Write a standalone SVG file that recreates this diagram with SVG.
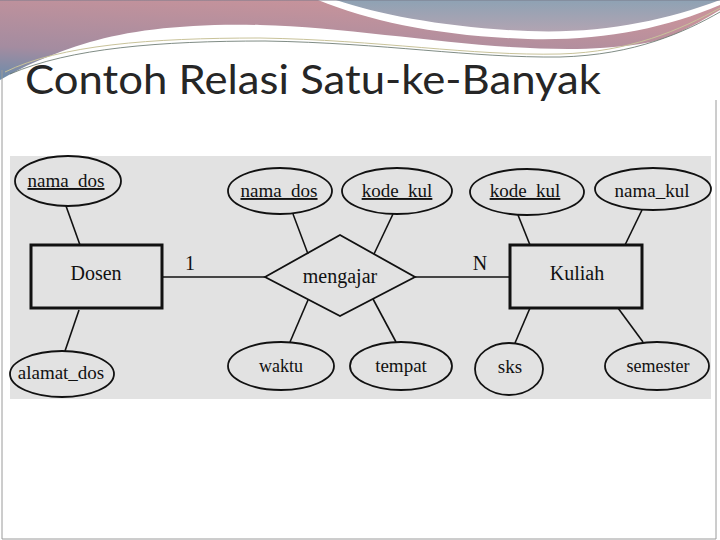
<svg xmlns="http://www.w3.org/2000/svg" width="720" height="540" viewBox="0 0 720 540">
<defs>
<linearGradient id="mauve" x1="0" y1="1" x2="0.45" y2="0">
<stop offset="0" stop-color="#6a8cab"/>
<stop offset="0.35" stop-color="#a48ca0"/>
<stop offset="1" stop-color="#c7939b"/>
</linearGradient>
<linearGradient id="bluegray" x1="0" y1="0" x2="0" y2="1">
<stop offset="0" stop-color="#8ea2b4"/>
<stop offset="1" stop-color="#b3a4b2"/>
</linearGradient>
<style>
.attr{fill:none;stroke:#111;stroke-width:1.8}
.ent{fill:none;stroke:#111;stroke-width:3}
.rel{fill:none;stroke:#111;stroke-width:1.8}
.conn line{stroke:#111;stroke-width:1.6}
.t{font-family:"Liberation Serif","Times New Roman",serif;font-size:19px;fill:#111;text-anchor:middle}
.big{font-size:20px}
.u{text-decoration:underline}
</style>
</defs>
<rect width="720" height="540" fill="#ffffff"/>
<!-- header decoration -->
<path d="M0,0 H720 V10 C700,22 670,40 640,44 C600,50 560,50 510,47 C430,42 340,27 260,25 C190,23 130,30 90,42 C50,54 20,68 0,80 Z" fill="url(#mauve)"/>
<path d="M330,0 C375,16 445,29 525,32 C600,35 665,22 720,0 Z" fill="url(#bluegray)"/>
<path d="M318,0 L336,0 C380,15 450,28 528,31 C600,34 664,21 720,0 L720,5 C664,29 600,41 528,39 C440,36 372,22 318,0 Z" fill="#ffffff"/>
<path d="M5,72 C60,45 150,38 260,38 C380,40 470,56 560,54 C630,52 680,30 720,8" fill="none" stroke="#c9c39a" stroke-width="1"/>
<path d="M10,74 C70,48 160,41 265,41 C385,43 470,58 560,57 C635,55 685,32 720,12" fill="none" stroke="#5f6e66" stroke-width="0.8"/>
<path d="M0,0 L720,0" stroke="#7a7a8a" stroke-width="1"/>
<!-- slide frame -->
<path d="M2,70 V539 H716 V100" fill="none" stroke="#9a9a9a" stroke-width="1"/>
<!-- title -->
<text x="25" y="94" font-family="Lato,'Open Sans','Liberation Sans',sans-serif" font-size="41" fill="#262626" textLength="576" lengthAdjust="spacingAndGlyphs">Contoh Relasi Satu-ke-Banyak</text>
<!-- scanned diagram background -->
<rect x="10" y="156" width="701" height="243" fill="#e2e2e2"/>
<!-- connectors -->
<g id="connectors" class="conn">
<line x1="66" y1="206" x2="80" y2="245"/>
<line x1="79" y1="310" x2="65" y2="351"/>
<line x1="162" y1="277" x2="265" y2="277"/>
<line x1="415" y1="277" x2="510" y2="277"/>
<line x1="293" y1="214" x2="308" y2="254"/>
<line x1="393" y1="214" x2="374" y2="254"/>
<line x1="308" y1="300" x2="290" y2="342"/>
<line x1="373" y1="299" x2="396" y2="342"/>
<line x1="518" y1="215" x2="530" y2="245"/>
<line x1="642" y1="210" x2="625" y2="245"/>
<line x1="530" y1="308" x2="515" y2="343"/>
<line x1="618" y1="308" x2="643" y2="342"/>
</g>
<text class="t big" x="190" y="270">1</text>
<text class="t big" x="480" y="270">N</text>
<!-- entities -->
<g id="dosen">
<rect class="ent" x="31" y="245" width="131" height="63"/>
<text class="t big" x="96" y="280">Dosen</text>
</g>
<g id="kuliah">
<rect class="ent" x="510" y="245" width="132" height="63"/>
<text class="t big" x="577" y="280">Kuliah</text>
</g>
<g id="mengajar">
<polygon class="rel" points="265,277 340,235 415,277 340,316"/>
<text class="t big" x="340" y="283">mengajar</text>
</g>
<!-- attributes -->
<g id="nama_dos_1">
<ellipse class="attr" cx="68" cy="181" rx="53" ry="25"/>
<text class="t u" x="66" y="187">nama_dos</text>
</g>
<g id="alamat_dos">
<ellipse class="attr" cx="62" cy="374" rx="52" ry="23"/>
<text class="t" x="61" y="379">alamat_dos</text>
</g>
<g id="nama_dos_2">
<ellipse class="attr" cx="280" cy="191" rx="52" ry="23"/>
<text class="t u" x="279" y="197">nama_dos</text>
</g>
<g id="kode_kul_1">
<ellipse class="attr" cx="397" cy="191" rx="55" ry="23"/>
<text class="t u" x="397" y="197">kode_kul</text>
</g>
<g id="kode_kul_2">
<ellipse class="attr" cx="527" cy="192" rx="57" ry="23"/>
<text class="t u" x="525" y="197">kode_kul</text>
</g>
<g id="nama_kul">
<ellipse class="attr" cx="653" cy="189" rx="58" ry="21"/>
<text class="t" x="652" y="197">nama_kul</text>
</g>
<g id="waktu">
<ellipse class="attr" cx="281" cy="366" rx="53" ry="24"/>
<text class="t" x="281" y="372" style="font-size:18px">waktu</text>
</g>
<g id="tempat">
<ellipse class="attr" cx="401" cy="366" rx="51" ry="24"/>
<text class="t" x="401" y="372">tempat</text>
</g>
<g id="sks">
<ellipse class="attr" cx="509" cy="369" rx="34" ry="26"/>
<text class="t" x="510" y="373">sks</text>
</g>
<g id="semester">
<ellipse class="attr" cx="657" cy="366" rx="52" ry="24"/>
<text class="t" x="658" y="372" style="font-size:18px">semester</text>
</g>
</svg>
